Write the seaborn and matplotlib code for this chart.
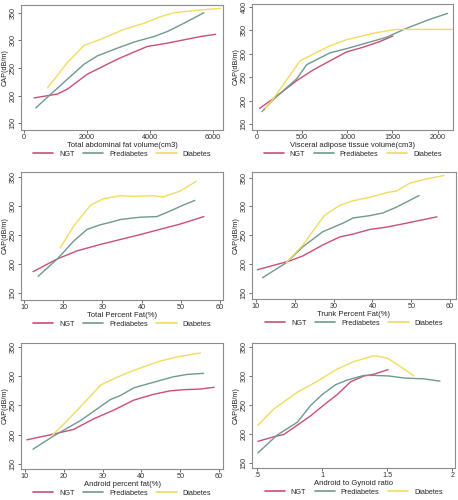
import matplotlib
matplotlib.use("Agg")
import matplotlib.pyplot as plt
import seaborn as sns
import pandas as pd

sns.set_theme(style="white")
plt.rcParams['font.family'] = ['Liberation Sans', 'DejaVu Sans']

groups = ["NGT", "Prediabetes", "Diabetes"]
colors = {"NGT": "#c94f74", "Prediabetes": "#6e9a8e", "Diabetes": "#f0dc5e"}

# Panel 1: Total abdominal fat volume
p1_ngt_x = [317, 1058, 1376, 2011, 2434, 2963, 3492, 3915, 4550, 5079, 5608, 6085]
p1_ngt_y = [196, 203, 212, 239, 251, 266, 279, 289, 295, 301, 307, 311]
p1_pre_x = [370, 794, 1376, 1905, 2328, 2963, 3492, 4127, 4550, 5079, 5714]
p1_pre_y = [178, 200, 230, 257, 272, 286, 297, 307, 316, 331, 350]
p1_dia_x = [741, 1376, 1905, 2434, 3175, 3810, 4339, 4762, 5397, 6243]
p1_dia_y = [214, 260, 291, 302, 320, 331, 343, 350, 354, 358]

# Panel 2: Visceral adipose tissue volume
p2_ngt_x = [29, 183, 440, 624, 807, 991, 1174, 1358, 1505]
p2_ngt_y = [184, 205, 243, 266, 285, 304, 314, 326, 338]
p2_pre_x = [55, 183, 440, 551, 807, 991, 1174, 1431, 1651, 1908, 2110]
p2_pre_y = [177, 203, 247, 277, 302, 311, 321, 335, 354, 373, 386]
p2_dia_x = [92, 183, 477, 661, 807, 991, 1321, 1541, 1761, 2165]
p2_dia_y = [184, 205, 285, 303, 317, 330, 345, 352, 352, 352]

# Panel 3: Total Percent Fat
p3_ngt_x = [12.3, 18.5, 23.6, 29.5, 33.7, 39.7, 44.7, 49.8, 55.9]
p3_ngt_y = [187, 209, 223, 234, 241, 251, 260, 269, 282]
p3_pre_x = [13.6, 18.5, 22.7, 26.1, 29.5, 32.0, 34.6, 39.7, 43.9, 46.4, 50.7, 53.6]
p3_pre_y = [179, 209, 240, 260, 268, 272, 277, 281, 282, 289, 302, 310]
p3_dia_x = [19.2, 22.7, 27.0, 30.3, 34.6, 38.0, 43.0, 45.6, 49.8, 54.0]
p3_dia_y = [228, 266, 302, 313, 318, 317, 318, 316, 326, 343]

# Panel 4: Trunk Percent Fat
p4_ngt_x = [10.4, 18.6, 22.1, 27.2, 31.6, 35.0, 39.3, 43.6, 48.8, 56.6]
p4_ngt_y = [190, 205, 214, 233, 247, 252, 260, 264, 271, 282]
p4_pre_x = [11.7, 17.8, 22.1, 27.2, 32.4, 35.0, 39.3, 42.8, 46.2, 52.0]
p4_pre_y = [176, 202, 230, 256, 271, 280, 284, 289, 299, 319]
p4_dia_x = [17.8, 22.1, 25.5, 27.7, 31.6, 35.0, 39.3, 43.6, 46.2, 49.7, 54.0, 58.5]
p4_dia_y = [202, 233, 265, 285, 302, 310, 316, 324, 327, 341, 348, 354]

# Panel 5: Android percent fat
p5_ngt_x = [10.5, 17.5, 22.6, 27.7, 32.9, 38.0, 43.1, 47.4, 51.0, 55.0, 58.7]
p5_ngt_y = [191, 201, 209, 227, 242, 259, 269, 275, 277, 278, 281]
p5_pre_x = [12.1, 17.5, 24.3, 28.6, 32.0, 34.6, 38.0, 42.2, 48.2, 51.6, 56.0]
p5_pre_y = [175, 198, 224, 244, 260, 267, 280, 288, 299, 303, 305]
p5_dia_x = [17.1, 20.9, 26.9, 29.5, 32.0, 35.4, 38.0, 40.5, 44.8, 49.1, 55.2]
p5_dia_y = [199, 224, 266, 285, 293, 303, 310, 316, 326, 333, 340]

# Panel 6: Android to Gynoid ratio
p6_ngt_x = [0.505, 0.628, 0.705, 0.808, 0.91, 1.013, 1.115, 1.218, 1.32, 1.397, 1.505]
p6_ngt_y = [187, 195, 199, 215, 231, 250, 268, 290, 300, 303, 311]
p6_pre_x = [0.505, 0.654, 0.808, 0.91, 1.0, 1.103, 1.192, 1.32, 1.397, 1.513, 1.628, 1.782, 1.905]
p6_pre_y = [167, 198, 220, 249, 268, 285, 293, 301, 301, 300, 296.5, 295, 291]
p6_dia_x = [0.505, 0.628, 0.808, 0.962, 1.115, 1.244, 1.397, 1.5, 1.603, 1.705]
p6_dia_y = [215, 243, 272, 291, 312, 325, 335, 331, 316, 300]

panels = [
    dict(x=[p1_ngt_x, p1_pre_x, p1_dia_x], y=[p1_ngt_y, p1_pre_y, p1_dia_y],
         xlabel="Total abdominal fat volume(cm3)", xticks=[0, 2000, 4000, 6000],
         xticklabels=["0", "2000", "4000", "6000"], xlim=(-100, 6320),
         yticks=[150, 200, 250, 300, 350], ylim=(138, 364)),
    dict(x=[p2_ngt_x, p2_pre_x, p2_dia_x], y=[p2_ngt_y, p2_pre_y, p2_dia_y],
         xlabel="Visceral adipose tissue volume(cm3)", xticks=[0, 500, 1000, 1500, 2000],
         xticklabels=["0", "500", "1000", "1500", "2000"], xlim=(-55, 2170),
         yticks=[150, 200, 250, 300, 350, 400], ylim=(138, 406)),
    dict(x=[p3_ngt_x, p3_pre_x, p3_dia_x], y=[p3_ngt_y, p3_pre_y, p3_dia_y],
         xlabel="Total Percent Fat(%)", xticks=[10, 20, 30, 40, 50, 60],
         xticklabels=["10", "20", "30", "40", "50", "60"], xlim=(9.2, 60.8),
         yticks=[150, 200, 250, 300, 350], ylim=(138, 359)),
    dict(x=[p4_ngt_x, p4_pre_x, p4_dia_x], y=[p4_ngt_y, p4_pre_y, p4_dia_y],
         xlabel="Trunk Percent Fat(%)", xticks=[10, 20, 30, 40, 50, 60],
         xticklabels=["10", "20", "30", "40", "50", "60"], xlim=(9.0, 61.5),
         yticks=[150, 200, 250, 300, 350], ylim=(139, 360)),
    dict(x=[p5_ngt_x, p5_pre_x, p5_dia_x], y=[p5_ngt_y, p5_pre_y, p5_dia_y],
         xlabel="Android percent fat(%)", xticks=[10, 20, 30, 40, 50, 60],
         xticklabels=["10", "20", "30", "40", "50", "60"], xlim=(9.0, 61.0),
         yticks=[150, 200, 250, 300, 350], ylim=(141, 357)),
    dict(x=[p6_ngt_x, p6_pre_x, p6_dia_x], y=[p6_ngt_y, p6_pre_y, p6_dia_y],
         xlabel="Android to Gynoid ratio", xticks=[0.5, 1.0, 1.5, 2.0],
         xticklabels=[".5", "1", "1.5", "2"], xlim=(0.46, 2.02),
         yticks=[150, 200, 250, 300, 350], ylim=(141, 357)),
]

# axes rectangles in pixels (left, top, right, bottom)
W, H = 458, 500
rects = [
    (21, 5, 223, 130), (252, 4, 453, 130),
    (21, 172, 223, 300), (252, 172, 456, 299),
    (21, 343, 223, 469), (252, 343, 455, 468),
]

fig = plt.figure(figsize=(W / 100, H / 100), dpi=100)
frame_col = "#8c8c8c"
for p, (l, t, r, b) in zip(panels, rects):
    ax = fig.add_axes([l / W, 1 - b / H, (r - l) / W, (b - t) / H])
    rows = []
    for g, xs, ys in zip(groups, p["x"], p["y"]):
        for xv, yv in zip(xs, ys):
            rows.append({"x": xv, "y": yv, "group": g})
    df = pd.DataFrame(rows)
    sns.lineplot(data=df, x="x", y="y", hue="group", hue_order=groups,
                 palette=colors, linewidth=1.0, sort=True, estimator=None,
                 ax=ax, legend=False)
    ax.set_xlim(*p["xlim"])
    ax.set_ylim(*p["ylim"])
    ax.set_xticks(p["xticks"])
    ax.set_xticklabels(p["xticklabels"])
    ax.set_yticks(p["yticks"])
    ax.set_yticklabels([str(v) for v in p["yticks"]], rotation=90, va="center")
    ax.set_xlabel(p["xlabel"], fontsize=5.5, labelpad=0.5, color="#222222")
    ax.set_ylabel("CAP(dB/m)", fontsize=5.2, labelpad=0.8, color="#222222")
    ax.tick_params(axis="both", labelsize=5.2, length=2.2, width=0.5, pad=1.0,
                   colors="#333333", direction="out", bottom=True, left=True)
    for s in ax.spines.values():
        s.set_color(frame_col)
        s.set_linewidth(0.8)
    handles = [plt.Line2D([], [], color=colors[g], lw=1.2) for g in groups]
    hpx = b - t
    ax.legend(handles, groups, loc="center", bbox_to_anchor=(0.5, -24 / hpx),
              ncol=3, frameon=False, fontsize=5.2, handlelength=2.8,
              columnspacing=1.2, handletextpad=0.8, borderpad=0.2)

fig.savefig("out.png", dpi=100, facecolor="white")
